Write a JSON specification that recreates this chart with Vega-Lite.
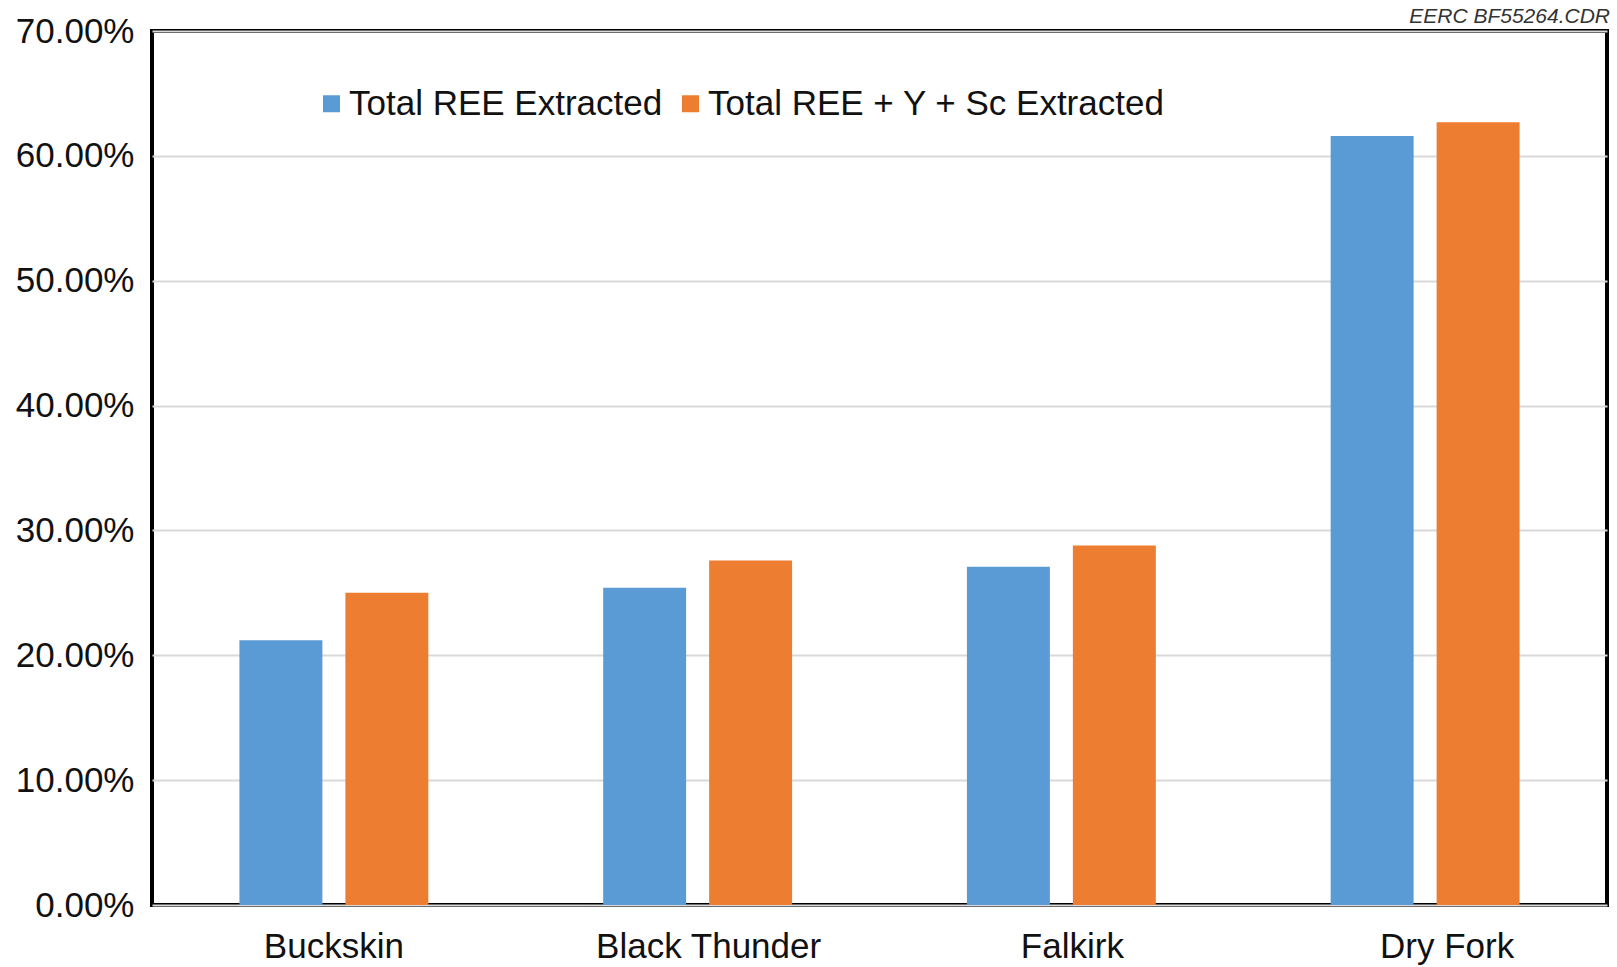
{
  "$schema": "https://vega.github.io/schema/vega-lite/v6.json",
  "width": 1455,
  "height": 874,
  "autosize": {"type": "none"},
  "padding": {"left": 152, "top": 31, "right": 10, "bottom": 62},
  "background": "#ffffff",
  "title": {
    "text": "EERC BF55264.CDR",
    "anchor": "end",
    "frame": "group",
    "font": "Liberation Sans",
    "fontSize": 21,
    "fontStyle": "italic",
    "fontWeight": "normal",
    "color": "#333333",
    "offset": -13,
    "dx": 3
  },
  "data": {
    "values": [
      {"mine": "Buckskin", "series": "Total REE Extracted", "value": 0.212},
      {"mine": "Buckskin", "series": "Total REE + Y + Sc Extracted", "value": 0.250},
      {"mine": "Black Thunder", "series": "Total REE Extracted", "value": 0.254},
      {"mine": "Black Thunder", "series": "Total REE + Y + Sc Extracted", "value": 0.276},
      {"mine": "Falkirk", "series": "Total REE Extracted", "value": 0.271},
      {"mine": "Falkirk", "series": "Total REE + Y + Sc Extracted", "value": 0.288},
      {"mine": "Dry Fork", "series": "Total REE Extracted", "value": 0.616},
      {"mine": "Dry Fork", "series": "Total REE + Y + Sc Extracted", "value": 0.627}
    ]
  },
  "mark": {"type": "bar"},
  "encoding": {
    "x": {
      "field": "mine",
      "type": "nominal",
      "sort": ["Buckskin", "Black Thunder", "Falkirk", "Dry Fork"],
      "scale": {"paddingInner": 0, "paddingOuter": 0},
      "axis": {
        "title": null,
        "labelAngle": 0,
        "labelFont": "Liberation Sans",
        "labelFontSize": 35,
        "labelColor": "#111111",
        "labelPadding": 24,
        "labelLimit": 500,
        "labelOffset": {
          "condition": [
            {"test": "datum.value === 'Dry Fork'", "value": 22},
            {"test": "datum.value === 'Buckskin'", "value": 0}
          ],
          "value": 11
        },
        "ticks": false,
        "tickSize": 0,
        "domain": false,
        "grid": false
      }
    },
    "xOffset": {
      "field": "series",
      "type": "nominal",
      "sort": ["Total REE Extracted", "Total REE + Y + Sc Extracted"],
      "scale": {"paddingInner": 0.217, "paddingOuter": 0.825}
    },
    "y": {
      "field": "value",
      "type": "quantitative",
      "scale": {"domain": [0, 0.7], "nice": false},
      "axis": {
        "title": null,
        "values": [0, 0.1, 0.2, 0.3, 0.4, 0.5, 0.6, 0.7],
        "format": ".2%",
        "labelFont": "Liberation Sans",
        "labelFontSize": 35,
        "labelColor": "#111111",
        "labelPadding": 18,
        "ticks": false,
        "tickSize": 0,
        "domain": false,
        "grid": true,
        "gridColor": "#d9d9d9",
        "gridWidth": 2
      }
    },
    "color": {
      "field": "series",
      "type": "nominal",
      "scale": {
        "domain": ["Total REE Extracted", "Total REE + Y + Sc Extracted"],
        "range": ["#5b9bd5", "#ed7d31"]
      },
      "legend": {
        "title": null,
        "orient": "none",
        "direction": "horizontal",
        "legendX": 162,
        "legendY": 55,
        "padding": 0,
        "symbolType": "square",
        "symbolSize": 289,
        "symbolStrokeWidth": 0,
        "labelFont": "Liberation Sans",
        "labelFontSize": 35,
        "labelColor": "#111111",
        "labelOffset": 0,
        "columnPadding": 10,
        "labelLimit": 600
      }
    }
  },
  "config": {
    "view": {"stroke": "#000000", "strokeWidth": 4}
  }
}
